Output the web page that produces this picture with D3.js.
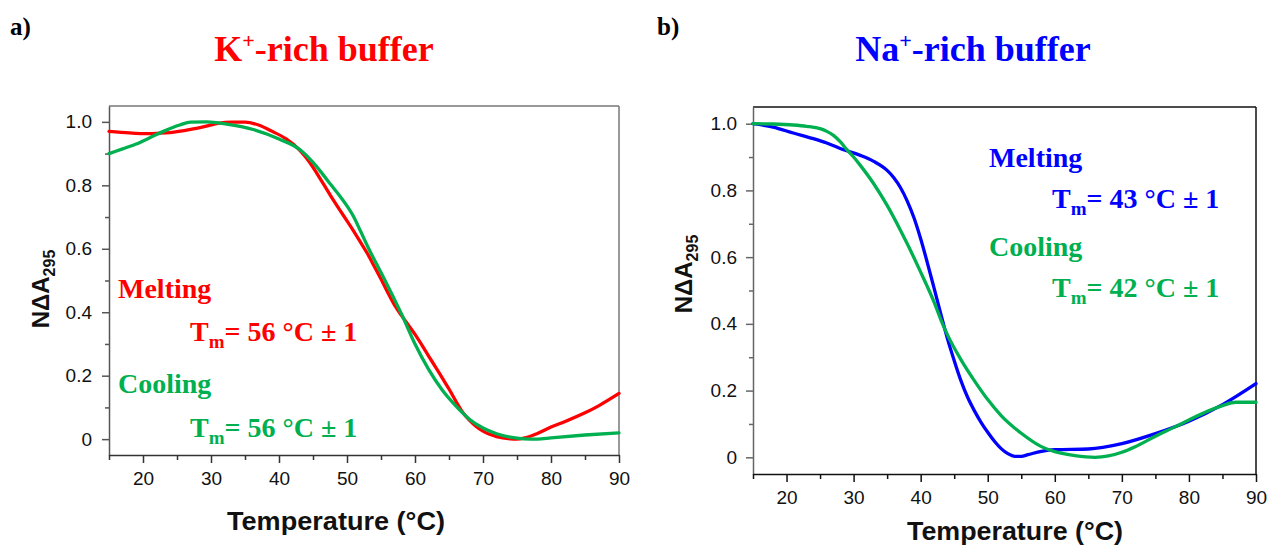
<!DOCTYPE html>
<html>
<head>
<meta charset="utf-8">
<script src="https://cdn.jsdelivr.net/npm/d3@7"></script>
<style>
  html, body { margin: 0; padding: 0; background: #fff; }
  svg { display: block; }
  .tick text { font-family: "Liberation Sans", Arial, sans-serif; font-size: 19px; fill: #111; }
</style>
</head>
<body>
<svg id="chart" width="1268" height="547"></svg>
<script>
// ---------- DATA ----------
// Panel a: K+-rich buffer
const kMeltT = [15,18,20,22,24,27,29,31,33,35,37,39,41,43,44,45,46,47,48,49,50,51,52,53,54,55,56,57,58,59,60,61.2,62,63,64,65,66,67,68,69,70,72,74,75,76,78,80,82,85,87,90];
const kMeltV = [0.970,0.965,0.963,0.964,0.966,0.976,0.985,0.995,0.999,0.999,0.99,0.97,0.947,0.912,0.887,0.857,0.823,0.788,0.753,0.72,0.688,0.655,0.62,0.585,0.545,0.505,0.462,0.422,0.39,0.36,0.33,0.29,0.262,0.228,0.193,0.158,0.12,0.085,0.06,0.04,0.025,0.008,0.001,0.0,0.003,0.018,0.038,0.055,0.083,0.105,0.144];
const kCoolT = [15,17,19,21,23,25.4,27,29.4,32.3,36.2,40,43.1,45,46.1,47.7,49,50,51,52,53.2,55,57.1,58,60,62,64,66,67,68,70,72,74,76,78,80,85,90];
const kCoolV = [0.90,0.915,0.93,0.95,0.97,0.99,0.999,1.0,0.993,0.976,0.946,0.912,0.872,0.844,0.80,0.765,0.735,0.70,0.655,0.60,0.525,0.435,0.395,0.30,0.22,0.155,0.105,0.083,0.063,0.035,0.017,0.006,0.001,0.0,0.004,0.013,0.02];

// Panel b: Na+-rich buffer
const naMeltT = [15,18,21,24,26,28.5,31,33,35,36,37,38,39,40,41,42,43,44,45,46,47,48,49,50,51,52,53,54,55,56,58,60,65,70,75,80,85,90];
const naMeltV = [1.0,0.99,0.972,0.955,0.942,0.922,0.905,0.887,0.86,0.838,0.808,0.768,0.718,0.655,0.583,0.507,0.43,0.355,0.29,0.23,0.18,0.14,0.105,0.075,0.048,0.026,0.011,0.003,0.003,0.008,0.018,0.023,0.025,0.041,0.071,0.108,0.158,0.221];
const naCoolT = [15,18,21,23,25,26,27,28,29,30,31,33,35,37,38,40,42,43,44,46,48,50,52,55,58,60,63,66,68,70,72,75,78,80,83,85,87,90];
const naCoolV = [1.0,0.999,0.996,0.992,0.985,0.977,0.965,0.946,0.922,0.9,0.875,0.82,0.755,0.68,0.64,0.555,0.465,0.413,0.367,0.293,0.23,0.173,0.125,0.072,0.032,0.017,0.005,0.0,0.004,0.015,0.032,0.063,0.092,0.112,0.14,0.155,0.165,0.165];

const xTicks = [20,30,40,50,60,70,80,90];
const xMinorTicks = [15,25,35,45,55,65,75,85];
const yTicks = [0,0.2,0.4,0.6,0.8,1.0];
const yMinorTicks = [0.1,0.3,0.5,0.7,0.9];
const xDomain = [15,90];
const yDomain = [-0.05,1.05];

const RED = "#ff0000", GREEN = "#00b050", BLUE = "#0000ff";

// ---------- DRAW ----------
const svg = d3.select("#chart");
const serif = "'Liberation Serif','Times New Roman',serif";
const sans = "'Liberation Sans',Arial,sans-serif";

function zip(t, v) { return t.map((d, i) => ({t: d, v: v[i]})); }

function panel(opt) {
  const x = d3.scaleLinear().domain(xDomain).range([opt.left, opt.right]);
  const y = d3.scaleLinear().domain(yDomain).range([opt.bottom, opt.top]);
  const g = svg.append("g");

  // frame top/right
  g.append("line").attr("x1", opt.left).attr("x2", opt.right).attr("y1", opt.top).attr("y2", opt.top)
    .attr("stroke", opt.frameColor).attr("stroke-width", 1.5);
  g.append("line").attr("x1", opt.right).attr("x2", opt.right).attr("y1", opt.top).attr("y2", opt.bottom)
    .attr("stroke", opt.frameColor).attr("stroke-width", 1.5);

  // axes
  const fmt = d => d === 0 ? "0" : d3.format(".1f")(d);
  const yAx = g.append("g").attr("transform", `translate(${opt.left},0)`)
    .call(d3.axisLeft(y).tickValues(yTicks).tickFormat(fmt).tickSize(7).tickPadding(opt.yPad).tickSizeOuter(0));
  const yMin = g.append("g").attr("transform", `translate(${opt.left},0)`)
    .call(d3.axisLeft(y).tickValues(yMinorTicks).tickFormat("").tickSize(4).tickSizeOuter(0));
  const xAx = g.append("g").attr("transform", `translate(0,${opt.bottom})`)
    .call(d3.axisBottom(x).tickValues(xTicks).tickSize(8).tickPadding(9).tickSizeOuter(0));
  const xMin = g.append("g").attr("transform", `translate(0,${opt.bottom})`)
    .call(d3.axisBottom(x).tickValues(xMinorTicks).tickFormat("").tickSize(5).tickSizeOuter(0));
  [yAx, yMin].forEach(a => { a.select(".domain").attr("stroke", opt.yAxisColor).attr("stroke-width", 1.5); a.selectAll(".tick line").attr("stroke", opt.yAxisColor).attr("stroke-width", 1.5); });
  [xAx, xMin].forEach(a => { a.select(".domain").attr("stroke", opt.xAxisColor).attr("stroke-width", 1.5); a.selectAll(".tick line").attr("stroke", opt.xAxisColor).attr("stroke-width", 1.5); });
  yMin.select(".domain").remove(); xMin.select(".domain").remove();

  // curves
  const line = d3.line().x(d => x(d.t)).y(d => y(d.v)).curve(d3.curveMonotoneX);
  opt.series.forEach(s => {
    g.append("path").datum(zip(s.t, s.v)).attr("d", line)
      .attr("fill", "none").attr("stroke", s.color).attr("stroke-width", 3.3)
      .attr("stroke-linejoin", "round").attr("stroke-linecap", "round");
  });

  // axis titles
  const yl = g.append("text").attr("transform", `translate(${opt.yLabelX},${opt.yLabelY}) rotate(-90)`)
    .attr("text-anchor", "middle").attr("font-family", sans).attr("font-weight", "bold")
    .attr("font-size", 24).attr("fill", "#111");
  yl.append("tspan").text("NΔA");
  yl.append("tspan").attr("font-size", 16).attr("dy", 6).text("295");
  g.append("text").attr("x", opt.xLabelX).attr("y", opt.xLabelY).attr("text-anchor", "middle")
    .attr("font-family", sans).attr("font-weight", "bold").attr("font-size", 25).attr("fill", "#111")
    .attr("textLength", opt.xLabelW).attr("lengthAdjust", "spacingAndGlyphs")
    .text("Temperature (°C)");

  // panel letter & title
  g.append("text").attr("x", opt.letterX).attr("y", 35).attr("font-family", serif).attr("font-weight", "bold")
    .attr("font-size", 25).attr("fill", "#000").text(opt.letter);
  const tt = g.append("text").attr("x", opt.titleX).attr("y", 61).attr("text-anchor", "middle")
    .attr("font-family", serif).attr("font-weight", "bold").attr("font-size", 36).attr("fill", opt.titleColor);
  tt.append("tspan").text(opt.ion);
  tt.append("tspan").attr("font-size", 22).attr("dy", -13).text("+");
  tt.append("tspan").attr("dy", 13).text("-rich buffer");

  // annotations
  opt.notes.forEach(n => {
    g.append("text").attr("x", n.x1).attr("y", n.y1).attr("font-family", serif).attr("font-weight", "bold")
      .attr("font-size", 28).attr("fill", n.color).text(n.label);
    const t = g.append("text").attr("x", n.x2).attr("y", n.y2).attr("font-family", serif).attr("font-weight", "bold")
      .attr("font-size", 28).attr("fill", n.color);
    t.append("tspan").text("T");
    t.append("tspan").attr("font-size", 19).attr("dy", 7).text("m");
    t.append("tspan").attr("dy", -7).text("= " + n.tm + " °C ± 1");
  });
}

panel({
  left: 109, right: 619, top: 106, bottom: 455,
  frameColor: "#777", yAxisColor: "#555", xAxisColor: "#333", yPad: 10,
  yLabelX: 49, yLabelY: 289, xLabelX: 336, xLabelY: 530, xLabelW: 218,
  letter: "a)", letterX: 10, titleX: 324, titleColor: RED, ion: "K",
  series: [{t: kMeltT, v: kMeltV, color: RED}, {t: kCoolT, v: kCoolV, color: GREEN}],
  notes: [
    {label: "Melting", tm: "56", color: RED, x1: 118, y1: 298, x2: 190, y2: 341},
    {label: "Cooling", tm: "56", color: GREEN, x1: 118, y1: 393, x2: 190, y2: 437}
  ]
});

panel({
  left: 753, right: 1256, top: 107, bottom: 474,
  frameColor: "#111", yAxisColor: "#666", xAxisColor: "#111", yPad: 9,
  yLabelX: 692, yLabelY: 274, xLabelX: 1015, xLabelY: 540, xLabelW: 216,
  letter: "b)", letterX: 657, titleX: 973, titleColor: BLUE, ion: "Na",
  series: [{t: naMeltT, v: naMeltV, color: BLUE}, {t: naCoolT, v: naCoolV, color: GREEN}],
  notes: [
    {label: "Melting", tm: "43", color: BLUE, x1: 989, y1: 167, x2: 1052, y2: 208},
    {label: "Cooling", tm: "42", color: GREEN, x1: 989, y1: 256, x2: 1052, y2: 297}
  ]
});
</script>
</body>
</html>
